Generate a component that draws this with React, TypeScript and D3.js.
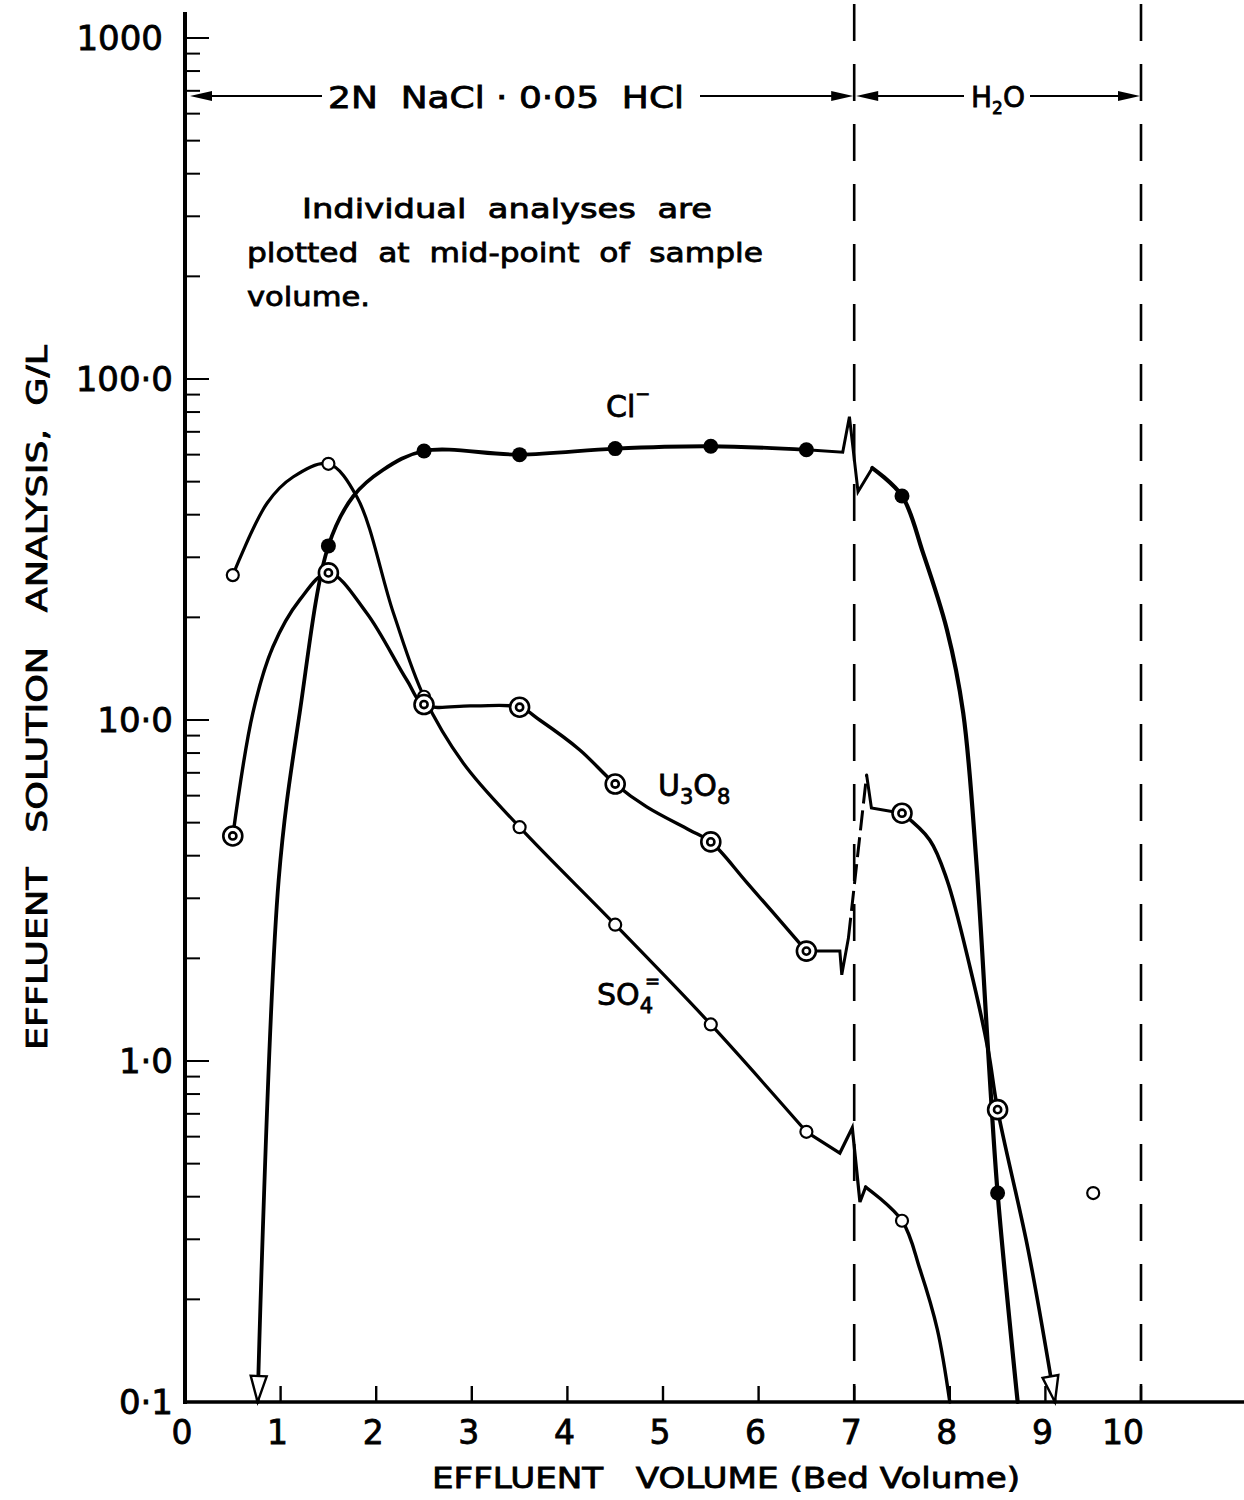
import React from "react";
import * as d3 from "d3";

type Pt = [number, number];

const WIDTH = 1244;
const HEIGHT = 1500;

// Analyses plotted at the mid-point of each sample volume (bed volumes, g/L)
const clVolume = [1.5, 2.5, 3.5, 4.5, 5.5, 6.5, 7.5, 8.5];
const clConc = [32.4, 61.5, 60, 62.5, 63.5, 62, 45.4, 0.41];

const u3o8Volume = [0.5, 1.5, 2.5, 3.5, 4.5, 5.5, 6.5, 7.5, 8.5];
const u3o8Conc = [4.57, 27, 11.1, 10.9, 6.49, 4.39, 2.1, 5.33, 0.72];

const so4Volume = [0.5, 1.5, 2.5, 3.5, 4.5, 5.5, 6.5, 7.5, 9.5];
const so4Conc = [26.6, 56.4, 11.7, 4.85, 2.51, 1.28, 0.62, 0.34, 0.41];

// Extra vertices of the hand-faired curves: [bed volume, g/L]
const clRise: Pt[] = [[0.76, 0.1], [0.98, 3.4], [1.2, 10.5], [1.76, 45.3], [2.07, 54.1]];
const clBreak: Pt[] = [[6.88, 61], [6.95, 77.5], [7.04, 46.7], [7.19, 54.8]];
const clFall: Pt[] = [[7.19, 54.8], [7.72, 30.9], [7.97, 18.4], [8.14, 10.5], [8.28, 3.76], [8.4, 1.08], [8.71, 0.1]];

const u3o8Rise: Pt[] = [
  [0.71, 10.5], [0.92, 16.4], [1.2, 22.5], [1.9, 20.6], [2.32, 13.1], [3.0, 11.0],
  [3.71, 10.0], [4.13, 8.17], [4.83, 5.56], [5.28, 4.75], [5.88, 3.33],
];
const u3o8Break: Pt[] = [[6.85, 2.1], [6.87, 1.79], [6.94, 2.3]];
const u3o8Jump: Pt[] = [[6.94, 2.3], [7.13, 6.9]];
const u3o8Step: Pt[] = [[7.13, 6.9], [7.18, 5.52]];
const u3o8Fall: Pt[] = [[7.79, 4.45], [7.97, 3.4], [8.21, 1.89], [8.4, 1.08], [8.82, 0.279], [9.1, 0.1]];

const so4Rise: Pt[] = [[0.86, 43.3], [1.13, 51.6], [1.8, 45], [2.18, 20.6], [2.91, 7.48]];
const so4Break: Pt[] = [[6.85, 0.537], [6.98, 0.637], [7.06, 0.386], [7.12, 0.427]];
const so4Fall: Pt[] = [[7.12, 0.427], [7.69, 0.244], [7.87, 0.163], [8.0, 0.1]];

// Axis ticks and labels
const xTicks = [1, 2, 3, 4, 5, 6, 7, 8, 9, 10];
const xTickLabels = ["0", "1", "2", "3", "4", "5", "6", "7", "8", "9", "10"];
const yDecades = [0.1, 1, 10, 100, 1000];
const yDecadeLabels = ["0·1", "1·0", "10·0", "100·0", "1000"];
const stageBoundaries = [7, 10];

const FONT = "'DejaVu Sans', 'Liberation Sans', sans-serif";

const marks = (vol: number[], conc: number[], lo: number, hi: number): Pt[] =>
  vol.map((v, i) => [v, conc[i]] as Pt).filter(([v]) => v >= lo && v <= hi);

const merge = (...lists: Pt[][]): Pt[] =>
  lists.flat().slice().sort((a, b) => a[0] - b[0]);

export default function App() {
  const x = d3.scaleLinear().domain([0, 10]).range([185, 1141]);
  const y = d3.scaleLog().domain([0.1, 1000]).range([1402, 38]);

  const smooth = d3
    .line<Pt>()
    .x((d) => x(d[0]))
    .y((d) => y(d[1]))
    .curve(d3.curveCatmullRom.alpha(0.5));
  const straight = d3
    .line<Pt>()
    .x((d) => x(d[0]))
    .y((d) => y(d[1]));

  const clMarks = marks(clVolume, clConc, 0, 10);
  const uMarks = marks(u3o8Volume, u3o8Conc, 0, 10);
  const sMarks = marks(so4Volume, so4Conc, 0, 10);

  const clPathA = smooth(merge(clRise, marks(clVolume, clConc, 1.5, 6.5)))!;
  const clPathZ = straight([marks(clVolume, clConc, 6.5, 6.5)[0], ...clBreak])!;
  const clPathB = smooth(merge(clFall, marks(clVolume, clConc, 7.5, 8.5)))!;

  const uPathA = smooth(merge(u3o8Rise, marks(u3o8Volume, u3o8Conc, 0.5, 6.5)))!;
  const uPathZ = straight([marks(u3o8Volume, u3o8Conc, 6.5, 6.5)[0], ...u3o8Break])!;
  const uPathJ = straight(u3o8Jump)!;
  const uPathS = straight([...u3o8Step, marks(u3o8Volume, u3o8Conc, 7.5, 7.5)[0]])!;
  const uPathB = smooth(merge(u3o8Fall, marks(u3o8Volume, u3o8Conc, 7.5, 8.5)))!;

  const sPathA = smooth(merge(so4Rise, marks(so4Volume, so4Conc, 0.5, 6.5)))!;
  const sPathZ = straight([marks(so4Volume, so4Conc, 6.5, 6.5)[0], ...so4Break])!;
  const sPathB = smooth(merge(so4Fall, marks(so4Volume, so4Conc, 7.5, 7.5)))!;

  // open arrowhead at the end of a curve, pointing from `from` towards `tip`
  const arrowHead = (from: Pt, tip: Pt) => {
    const x0 = x(from[0]), y0 = y(from[1]);
    const x1 = x(tip[0]), y1 = y(tip[1]);
    const len = Math.hypot(x1 - x0, y1 - y0);
    const ux = (x1 - x0) / len, uy = (y1 - y0) / len;
    const L = 26, hw = 8;
    const bx = x1 - ux * L, by = y1 - uy * L;
    return `M${x1},${y1}L${bx - uy * hw},${by + ux * hw}L${bx + uy * hw},${by - ux * hw}Z`;
  };

  const yMinor: number[] = [];
  yDecades.slice(0, -1).forEach((d) => {
    for (let k = 2; k <= 9; k++) yMinor.push(d * k);
  });

  const axisX = x(0);
  const axisY = y(0.1);
  const barY = 96;

  const filledTri = (tipX: number, dir: number) =>
    `M${tipX},${barY}L${tipX - dir * 22},${barY - 5}L${tipX - dir * 22},${barY + 5}Z`;

  const curveStyle = { fill: "none", stroke: "#000", strokeLinejoin: "round" as const, strokeLinecap: "round" as const };
  // lettering is drawn a little heavier than the regular face
  const ink = { fill: "#000", stroke: "#000", strokeWidth: 0.8 };

  return (
    <svg
      width={WIDTH}
      height={HEIGHT}
      style={{ position: "absolute", left: 0, top: 0, background: "#fff" }}
      fontFamily={FONT}
    >
      <rect x={0} y={0} width={WIDTH} height={HEIGHT} fill="#fff" />

      {/* stage boundaries */}
      {stageBoundaries.map((v) => (
        <line
          key={`b${v}`}
          x1={x(v)}
          x2={x(v)}
          y1={4}
          y2={axisY}
          stroke="#000"
          strokeWidth={2.6}
          strokeDasharray="37 23"
        />
      ))}

      {/* axes */}
      <line x1={axisX} x2={axisX} y1={12} y2={axisY + 2} stroke="#000" strokeWidth={4} />
      <line x1={axisX - 2} x2={1244} y1={axisY} y2={axisY} stroke="#000" strokeWidth={3.5} />

      {yDecades.map((v) => (
        <line key={`yd${v}`} x1={axisX} x2={axisX + 24} y1={y(v)} y2={y(v)} stroke="#000" strokeWidth={2} />
      ))}
      {yMinor.map((v) => (
        <line key={`ym${v}`} x1={axisX} x2={axisX + 15} y1={y(v)} y2={y(v)} stroke="#000" strokeWidth={2} />
      ))}
      {xTicks.map((v) => (
        <line key={`xt${v}`} x1={x(v)} x2={x(v)} y1={axisY} y2={axisY - 16} stroke="#000" strokeWidth={2.4} />
      ))}

      {yDecades.map((v, i) => (
        <text
          key={`yl${v}`}
          x={v === 1000 ? 163 : 173}
          y={y(v)}
          dy="0.36em"
          textAnchor="end"
          fontSize={34}
          {...ink}
        >
          {yDecadeLabels[i]}
        </text>
      ))}
      {xTickLabels.map((t, i) => (
        <text
          key={`xl${t}`}
          x={i === 10 ? x(10) - 18 : x(i) - 3}
          y={axisY + 42}
          textAnchor="middle"
          fontSize={33}
          {...ink}
        >
          {t}
        </text>
      ))}

      {/* axis titles */}
      <text
        x={432}
        y={1488}
        fontSize={28}
        textLength={588}
        lengthAdjust="spacingAndGlyphs"
        style={{ whiteSpace: "pre" }}
        {...ink}
      >
        {"EFFLUENT   VOLUME (Bed Volume)"}
      </text>
      <text
        transform="translate(47,1050) rotate(-90)"
        fontSize={28}
        textLength={705}
        lengthAdjust="spacingAndGlyphs"
        style={{ whiteSpace: "pre" }}
        {...ink}
      >
        {"EFFLUENT   SOLUTION   ANALYSIS,  G/L"}
      </text>

      {/* eluant stages */}
      <path d={filledTri(axisX + 5, -1)} fill="#000" />
      <line x1={axisX + 20} x2={322} y1={barY} y2={barY} stroke="#000" strokeWidth={2} />
      <text
        x={328}
        y={barY + 12}
        fontSize={30}
        textLength={356}
        lengthAdjust="spacingAndGlyphs"
        style={{ whiteSpace: "pre" }}
        {...ink}
      >
        {"2N  NaCl · 0·05  HCl"}
      </text>
      <line x1={700} x2={x(7) - 18} y1={barY} y2={barY} stroke="#000" strokeWidth={2} />
      <path d={filledTri(x(7) - 1, 1)} fill="#000" />
      <path d={filledTri(x(7) + 2, -1)} fill="#000" />
      <line x1={x(7) + 20} x2={964} y1={barY} y2={barY} stroke="#000" strokeWidth={2} />
      <text x={971} y={barY + 11} fontSize={28} {...ink}>
        H<tspan dy={7} fontSize={17}>2</tspan>
        <tspan dy={-7}>O</tspan>
      </text>
      <line x1={1030} x2={x(10) - 18} y1={barY} y2={barY} stroke="#000" strokeWidth={2} />
      <path d={filledTri(x(10) - 1, 1)} fill="#000" />

      {/* note */}
      <text x={302} y={218} fontSize={27} textLength={410} lengthAdjust="spacingAndGlyphs" style={{ whiteSpace: "pre" }} {...ink}>
        {"Individual  analyses  are"}
      </text>
      <text x={247} y={262} fontSize={27} textLength={516} lengthAdjust="spacingAndGlyphs" style={{ whiteSpace: "pre" }} {...ink}>
        {"plotted  at  mid-point  of  sample"}
      </text>
      <text x={247} y={306} fontSize={27} textLength={123} lengthAdjust="spacingAndGlyphs" {...ink}>
        {"volume."}
      </text>

      {/* curves */}
      <g {...curveStyle}>
        <path d={sPathA} strokeWidth={3.2} />
        <path d={sPathZ} strokeWidth={3.2} strokeLinejoin="miter" />
        <path d={sPathB} strokeWidth={3.4} />

        <path d={uPathA} strokeWidth={3.4} />
        <path d={uPathZ} strokeWidth={3} strokeLinejoin="miter" />
        <path d={uPathJ} strokeWidth={3} strokeDasharray="20 7" strokeLinecap="butt" />
        <path d={uPathS} strokeWidth={3} strokeLinejoin="miter" />
        <path d={uPathB} strokeWidth={3.6} />

        <path d={clPathA} strokeWidth={3.8} />
        <path d={clPathZ} strokeWidth={3} strokeLinejoin="miter" />
        <path d={clPathB} strokeWidth={4.2} />
      </g>

      {/* curve-end arrowheads */}
      <path d={arrowHead(clRise[1], clRise[0])} fill="#fff" stroke="#000" strokeWidth={2.4} />
      <path
        d={arrowHead(u3o8Fall[u3o8Fall.length - 2], u3o8Fall[u3o8Fall.length - 1])}
        fill="#fff"
        stroke="#000"
        strokeWidth={2.4}
      />

      {/* SO4 analyses */}
      {sMarks.map(([v, c]) => (
        <circle key={`s${v}`} cx={x(v)} cy={y(c)} r={6} fill="#fff" stroke="#000" strokeWidth={2.2} />
      ))}
      {/* U3O8 analyses */}
      {uMarks.map(([v, c]) => (
        <g key={`u${v}`}>
          <circle cx={x(v)} cy={y(c)} r={9.5} fill="#fff" stroke="#000" strokeWidth={2.6} />
          <circle cx={x(v)} cy={y(c)} r={3.6} fill="#fff" stroke="#000" strokeWidth={2.6} />
        </g>
      ))}
      {/* Cl analyses */}
      {clMarks.map(([v, c]) => (
        <circle key={`c${v}`} cx={x(v)} cy={y(c)} r={7.5} fill="#000" />
      ))}

      {/* curve labels */}
      <text x={606} y={417} fontSize={30} {...ink}>
        Cl<tspan dy={-17} fontSize={18}>−</tspan>
      </text>
      <text x={658} y={796} fontSize={30} {...ink}>
        U<tspan dy={8} fontSize={21}>3</tspan>
        <tspan dy={-8}>O</tspan>
        <tspan dy={8} fontSize={21}>8</tspan>
      </text>
      <text x={597} y={1005} fontSize={30} {...ink}>
        SO<tspan dy={8} fontSize={21}>4</tspan>
        <tspan dy={-26} dx={-8} fontSize={18}>=</tspan>
      </text>
    </svg>
  );
}
